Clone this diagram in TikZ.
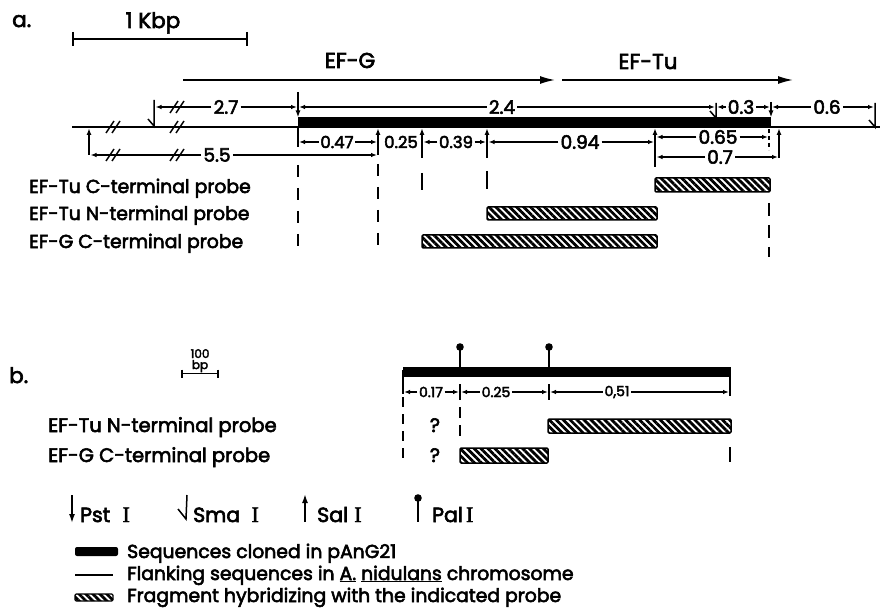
\documentclass[tikz,border=0pt]{standalone}
\usepackage{fontspec}
\setmainfont{Poppins}[FakeBold=3]
\newfontfamily\romI{Liberation Serif}[FakeBold=2]
\usetikzlibrary{arrows.meta,patterns.meta}
\newcommand\fBig{\fontsize{21.5}{24}\selectfont}
\newcommand\fLab{\fontsize{18.8}{20}\selectfont}
\newcommand\fLabB{\fontsize{19.5}{21}\selectfont}
\newcommand\fDim{\fontsize{18.5}{20}\selectfont}
\newcommand\fSm{\fontsize{16.5}{18}\selectfont}
\newcommand\fTiny{\fontsize{14}{16}\selectfont}
\newcommand\fMini{\fontsize{12}{13}\selectfont}
\newcommand\fLeg{\fontsize{18.8}{20}\selectfont}
\newcommand\fSym{\fontsize{20.5}{22}\selectfont}
\newcommand\rI{{\romI\fontsize{22}{22}\selectfont I}}
\tikzset{
  lw/.style={line width=1.5pt},
  gene/.style={line width=1.6pt,-{Latex[length=15pt,width=8pt]}},
  dimline/.style={line width=1.3pt,-{Latex[length=6pt,width=4.5pt]}},
  sitearrow/.style={line width=1.5pt,-{Latex[length=7pt,width=5pt]}},
  bigarrow/.style={line width=1.6pt,-{Latex[length=9pt,width=6pt]}},
  hatchbar/.style={draw,line width=1.5pt,rounded corners=1.2pt,pattern={Lines[angle=-45,distance=4.9pt,line width=2.8pt]}},
  dashv/.style={line width=1.6pt,dash pattern=on 12pt off 11pt},
  dimlbl/.style={font=\fDim,inner sep=2pt},
  smlbl/.style={font=\fTiny,inner sep=1.5pt},
  lab/.style={font=\fLab,anchor=base west,inner sep=0pt},
}
\newcommand\brk[2]{\draw[lw] (#1-7,#2+6) -- (#1+1,#2-6) (#1-1,#2+6) -- (#1+7,#2-6);}
\newcommand\sma[3]{\draw[lw] (#1,#2) -- (#1,#3) -- (#1-6,#3-7);}
\newcommand\site[3]{\draw[sitearrow] (#1,#2) -- (#1,#3);}
\begin{document}
\begin{tikzpicture}[x=1pt,y=-1pt]
\useasboundingbox[fill=white] (0,0) rectangle (880,612);

% ---------------- panel a ----------------
\node[font=\fBig,anchor=base west,inner sep=0pt] (la) at (12,27) {a.};
\node[font=\fBig,anchor=base] (kbp) at (153,28) {1 Kbp};
\coordinate (k1) at (73,39); \coordinate (k2) at (247,39);
\draw[lw] (k1) -- (k2) (73,32) -- (73,46) (247,32) -- (247,46);

\node[font=\fBig,anchor=base] (efg) at (350,68) {EF-G};
\node[font=\fBig,anchor=base] (eftu) at (648,69) {EF-Tu};
\coordinate (g1) at (183,80); \coordinate (g2) at (555,80);
\coordinate (t1) at (562,80); \coordinate (t2) at (793,80);
\draw[gene] (g1) -- (g2);
\draw[gene] (t1) -- (t2);

% chromosome
\draw[lw] (72,127) -- (880,127);
\fill (298,117) rectangle (771,127.8);
\brk{113}{127}\brk{177}{127}\brk{177}{107}\brk{113}{155}\brk{177}{155}

% sites
\sma{154}{100}{126}
\site{298}{92}{117.5}
\draw[lw] (298,127) -- (298,147);
\sma{716}{103}{118}
\site{771}{102}{117.5}
\sma{875}{103}{127}
\site{89}{155}{128}
\site{378}{155}{128}
\site{422}{158}{128}
\site{487}{158}{128}
\site{655}{167}{128}
\site{779}{158}{128}
\draw[line width=1.3pt,dash pattern=on 4pt off 3pt] (769,129) -- (769,150);

% upper dimensions
\node[dimlbl] (d27) at (226,107) {2.7};
\draw[dimline] (d27.west) -- (155.5,107);
\draw[dimline] (d27.east) -- (297,107);
\node[dimlbl] (d24) at (502,107) {2.4};
\draw[dimline] (d24.west) -- (299,107);
\draw[dimline] (d24.east) -- (715,107);
\node[dimlbl] (d03) at (741,107) {0.3};
\draw[dimline] (d03.west) -- (717,107);
\draw[dimline] (d03.east) -- (770,107);
\node[dimlbl] (d06) at (827,107) {0.6};
\draw[dimline] (d06.west) -- (772,107);
\draw[dimline] (d06.east) -- (874,107);

% lower dimensions
\node[dimlbl] (d55) at (217,155) {5.5};
\draw[dimline] (d55.west) -- (90.5,155);
\draw[dimline] (d55.east) -- (377,155);
\node[dimlbl,font=\fSm,inner sep=1.5pt] (d047) at (337,142) {0.47};
\draw[dimline] (d047.west) -- (299,142);
\draw[dimline] (d047.east) -- (377,142);
\node[dimlbl,font=\fSm,inner sep=1pt] (d025) at (401,142) {0.25};
\node[dimlbl,font=\fSm,inner sep=1.5pt] (d039) at (456,142) {0.39};
\draw[dimline] (d039.west) -- (423.5,142);
\draw[dimline] (d039.east) -- (486,142);
\node[dimlbl] (d094) at (580,142) {0.94};
\draw[dimline] (d094.west) -- (488.5,142);
\draw[dimline] (d094.east) -- (654,142);
\node[dimlbl] (d065) at (718,137) {0.65};
\draw[dimline] (d065.west) -- (656.5,137);
\draw[dimline] (d065.east) -- (768,137);
\node[dimlbl] (d07) at (720,157) {0.7};
\draw[dimline] (d07.west) -- (656.5,157);
\draw[dimline] (d07.east) -- (778,157);

% probes panel a
\node[lab] (pa1) at (29,193) {EF-Tu C-terminal probe};
\node[lab] (pa2) at (29,220) {EF-Tu N-terminal probe};
\node[lab] (pa3) at (29,248) {EF-G C-terminal probe};
\draw[dashv] (298,165) -- (298,250);
\draw[dashv] (378,164) -- (378,250);
\draw[line width=1.6pt] (422,173) -- (422,190);
\draw[line width=1.6pt] (487,171) -- (487,189);
\draw[line width=1.6pt,dash pattern=on 13pt off 9pt] (769,203) -- (769,257);
\path[hatchbar] (655,178) rectangle (770,192);
\path[hatchbar] (487,207) rectangle (657,220);
\path[hatchbar] (422,235) rectangle (657,248);

% ---------------- panel b ----------------
\node[font=\fBig,anchor=base west,inner sep=0pt] (lb) at (9,383) {b.};
\node[font=\fMini,anchor=base,inner sep=0pt] (h100) at (200,358) {100};
\node[font=\fMini,anchor=base,inner sep=0pt] (hbp) at (200,369) {bp};
\draw[lw] (182,373.5) -- (218,373.5) (182,369.5) -- (182,377.5) (218,369.5) -- (218,377.5);

\fill (403,367) rectangle (731,377);
\draw[lw] (403,370) -- (403,394);
\draw[lw] (730,376) -- (730,396);
\fill (460,347) circle (3.8);
\fill (549,347) circle (3.8);
\draw[lw] (460,347) -- (460,368) (549,347) -- (549,368);
\draw[lw] (460,384) -- (460,400) (549,384) -- (549,400);

\node[smlbl] (e017) at (431,392) {0.17};
\draw[dimline] (e017.west) -- (404,392);
\draw[dimline] (e017.east) -- (459,392);
\node[smlbl] (e025) at (496,392) {0.25};
\draw[dimline] (e025.west) -- (461,392);
\draw[dimline] (e025.east) -- (548,392);
\node[smlbl] (e051) at (617,392) {0,51};
\draw[dimline] (e051.west) -- (550,392);
\draw[dimline] (e051.east) -- (729,392);

\node[lab,font=\fLabB] (pb1) at (48,432) {EF-Tu N-terminal probe};
\node[lab,font=\fLabB] (pb2) at (48,462) {EF-G C-terminal probe};
\node[font=\fLabB,anchor=base] (q1) at (435,432) {?};
\node[font=\fLabB,anchor=base] (q2) at (435,462) {?};
\draw[line width=1.6pt,dash pattern=on 10pt off 7pt] (403,397) -- (403,463);
\draw[line width=1.6pt,dash pattern=on 11pt off 7pt] (460,407) -- (460,442);
\draw[line width=1.6pt] (730,447) -- (730,462);
\path[hatchbar] (548,419) rectangle (731,433);
\path[hatchbar] (460,448) rectangle (548,463);

% ---------------- legend ----------------
\draw[bigarrow] (72,495) -- (72,523);
\node[font=\fSym,anchor=base west,inner sep=0pt] (kpst) at (80,522) {Pst\hspace{0.6em}\rI};
\draw[lw] (178,509) -- (186,519) -- (187,495);
\node[font=\fSym,anchor=base west,inner sep=0pt] (ksma) at (193,522) {Sma\hspace{0.55em}\rI};
\draw[bigarrow] (305,522) -- (305,494);
\node[font=\fSym,anchor=base west,inner sep=0pt] (ksal) at (317,522) {Sal\hspace{0.3em}\rI};
\fill (418,498) circle (3.8);
\draw[lw] (418,498) -- (418,522);
\node[font=\fSym,anchor=base west,inner sep=0pt] (kpal) at (432,522) {Pal\hspace{0.15em}\rI};

\fill[rounded corners=2pt] (75,547) rectangle (118,556);
\draw[lw] (75,575) -- (113,575);
\path[hatchbar,line width=1.2pt] (75,594) rectangle (113,601);
\node[font=\fLeg,anchor=base west,inner sep=0pt] (l1) at (127,558) {Sequences cloned in pAnG21};
\node[font=\fLeg,anchor=base west,inner sep=0pt] (l2) at (127,580) {Flanking sequences in \underline{A.} \underline{nidulans} chromosome};
\node[font=\fLeg,anchor=base west,inner sep=0pt] (l3) at (127,602) {Fragment hybridizing with the indicated probe};
\end{tikzpicture}
\end{document}
